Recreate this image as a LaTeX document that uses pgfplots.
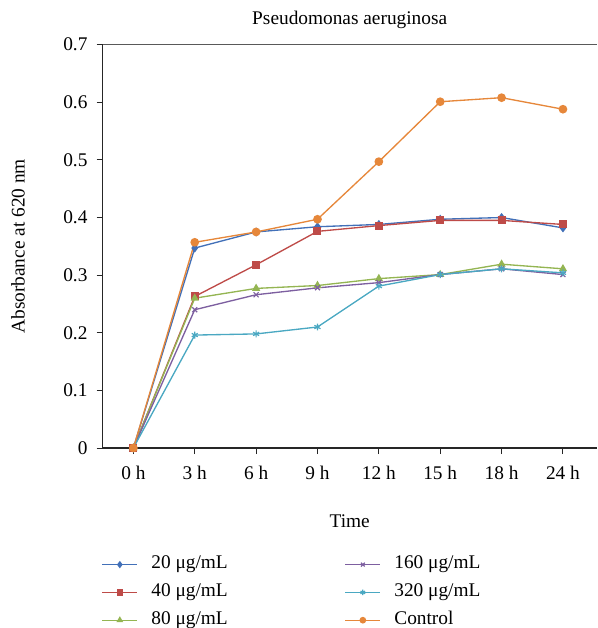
\documentclass[border=0pt]{standalone}
\usepackage{pgfplots}
\pgfplotsset{compat=1.18}
\usepackage{fontspec}
\setmainfont{Liberation Serif}
\definecolor{cA}{HTML}{4270B8}
\definecolor{cB}{HTML}{BE4B48}
\definecolor{cC}{HTML}{94B552}
\definecolor{cD}{HTML}{7D5FA0}
\definecolor{cE}{HTML}{4AA8C2}
\definecolor{cF}{HTML}{E6873A}
\newcommand{\fs}{\fontsize{14.5}{17}\selectfont}
\begin{document}
\fs
\begin{tikzpicture}
\useasboundingbox (0,0) rectangle (447.75pt,471pt);
\begin{axis}[
  at={(77.025pt,135pt)}, anchor=south west,
  scale only axis, width=370.5pt, height=302.5pt,
  xmin=-0.5, xmax=7.55, ymin=0, ymax=0.7,
  clip=false,
  axis lines*=left,
  axis line style={-, line width=0.9pt, black!85},
  tick align=outside,
  major tick length=4.5pt,
  tick style={line width=0.7pt, black!85},
  xtick={0,1,2,3,4,5,6,7},
  xticklabels={0 h,3 h,6 h,9 h,12 h,15 h,18 h,24 h},
  ytick={0,0.1,0.2,0.3,0.4,0.5,0.6,0.7},
  yticklabels={0,0.1,0.2,0.3,0.4,0.5,0.6,0.7},
  /pgf/number format/assume math mode=true,
  every axis/.append style={font=\fs},
  tick label style={font=\fs},
  xticklabel style={anchor=base, inner sep=0pt, yshift=-19.1pt},
  yticklabel style={anchor=east, inner sep=0pt, xshift=-6.75pt},
  title={Pseudomonas aeruginosa},
  title style={font=\fs, at={(axis description cs:0.5,1)}, anchor=base, yshift=9.5pt, inner sep=0pt},
  xlabel={Time},
  xlabel style={font=\fs, at={(axis description cs:0.5,0)}, anchor=center, yshift=-54.75pt},
  ylabel={Absorbance at 620 nm},
  ylabel style={font=\fs, at={(axis description cs:0,0.5)}, anchor=center, yshift=63.5pt},
  every axis plot/.append style={line width=1pt},
  legend image code/.code={\draw[mark repeat=2,mark phase=2, mark size=2pt] plot coordinates {(0pt,0pt) (13.1pt,0pt) (26.25pt,0pt)};},
  transpose legend,
  legend columns=3,
  legend cell align=left,
  legend style={draw=none, fill=none, font=\fs, inner sep=0pt, outer sep=0pt,
    at={(axis description cs:0,0)}, anchor=north west, xshift=-0.75pt, yshift=-81.2pt,
    nodes={inner sep=0pt, text height=9.5pt, text depth=3pt},
    row sep=8.35pt,
    /tikz/every odd column/.style={column sep=10pt}},
]
\addplot[color=cA, mark=diamond*, mark size=2.6pt] coordinates {(0,0) (1,0.347) (2,0.375) (3,0.384) (4,0.388) (5,0.397) (6,0.400) (7,0.382)};
\addlegendentry{\makebox[145pt][l]{20 μg/mL}}
\addplot[color=cB, mark=square*, mark size=2.5pt] coordinates {(0,0) (1,0.263) (2,0.318) (3,0.376) (4,0.386) (5,0.395) (6,0.395) (7,0.388)};
\addlegendentry{\makebox[145pt][l]{40 μg/mL}}
\addplot[color=cC, mark=triangle*, mark size=2.6pt] coordinates {(0,0) (1,0.260) (2,0.277) (3,0.282) (4,0.294) (5,0.301) (6,0.319) (7,0.311)};
\addlegendentry{\makebox[145pt][l]{80 μg/mL}}
\addplot[color=cD, mark=x, mark size=2.6pt, mark options={line width=0.9pt}] coordinates {(0,0) (1,0.240) (2,0.266) (3,0.278) (4,0.287) (5,0.301) (6,0.311) (7,0.301)};
\addlegendentry{160 μg/mL}
\addplot[color=cE, mark=asterisk, mark size=2.6pt, mark options={line width=0.9pt}] coordinates {(0,0) (1,0.196) (2,0.198) (3,0.210) (4,0.281) (5,0.301) (6,0.311) (7,0.304)};
\addlegendentry{320 μg/mL}
\addplot[color=cF, mark=*, mark size=2.75pt] coordinates {(0,0) (1,0.357) (2,0.375) (3,0.397) (4,0.497) (5,0.601) (6,0.608) (7,0.588)};
\addlegendentry{Control}
\draw[line width=0.9pt, black!65] (rel axis cs:0,1) -- (rel axis cs:1,1);
\end{axis}
\end{tikzpicture}
\end{document}
